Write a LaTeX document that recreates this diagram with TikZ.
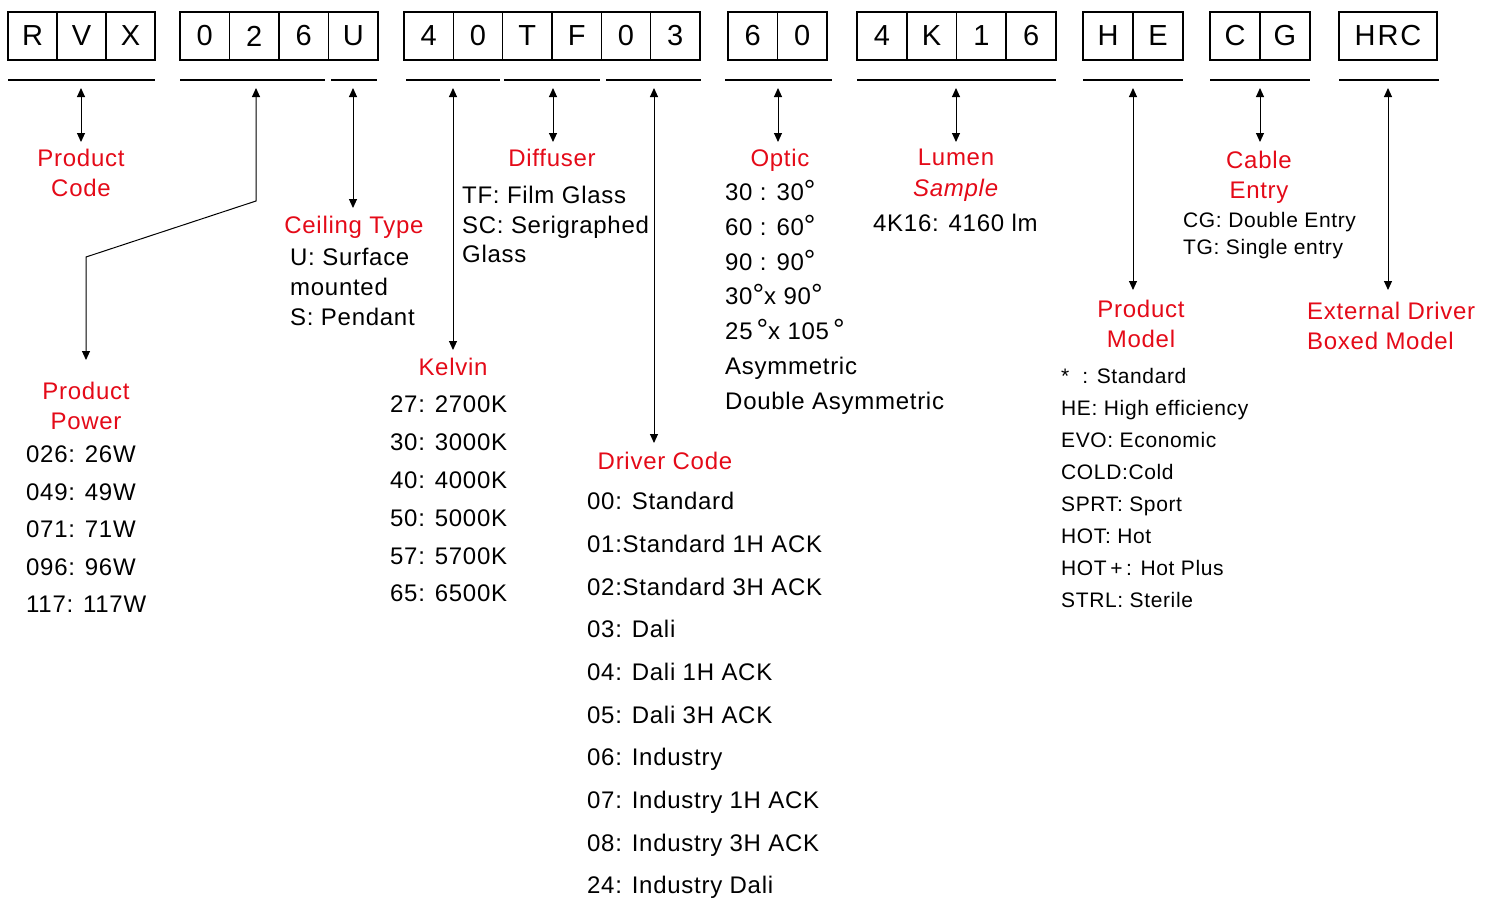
\documentclass[tikz,border=0pt]{standalone}
\usepackage{fontspec}
\setmainfont{Liberation Sans}[LetterSpace=3]
\usetikzlibrary{arrows.meta}
\definecolor{codered}{RGB}{228,10,24}
\newcommand\dg{{\fontsize{29}{29}\selectfont °}}

\begin{document}
\begin{tikzpicture}[x=1pt,y=-1pt,>={Triangle[length=9pt,width=8pt]},cell/.style={draw, line width=1.6pt, minimum height=48pt, inner sep=0pt, font=\fontsize{29}{34}\selectfont},uline/.style={line width=1.6pt},link/.style={<->, line width=1pt},title/.style={text=codered, align=center, anchor=north, inner sep=0pt, font=\fontsize{24}{30}\selectfont},list/.style={align=left, anchor=north west, inner sep=0pt, font=\fontsize{24}{30}\selectfont},small/.style={list, font=\fontsize{21}{27}\selectfont}]
\useasboundingbox (0,0) rectangle (1489,898);
% code boxes
\node[cell, minimum width=49pt] (c1a) at (32.5,36) {R}; \node[cell, minimum width=49pt] (c1b) at (81.5,36) {V}; \node[cell, minimum width=49pt] (c1c) at (130.5,36) {X};
\node[cell, minimum width=49.5pt] (c2a) at (204.75,36) {0}; \node[cell, minimum width=49.5pt] (c2b) at (254.25,36) {2}; \node[cell, minimum width=49.5pt] (c2c) at (303.75,36) {6}; \node[cell, minimum width=49.5pt] (c2d) at (353.25,36) {U};
\node[cell, minimum width=49.3pt] (c3a) at (428.7,36) {4}; \node[cell, minimum width=49.3pt] (c3b) at (478,36) {0}; \node[cell, minimum width=49.3pt] (c3c) at (527.3,36) {T};
\node[cell, minimum width=49.3pt] (c3d) at (576.7,36) {F}; \node[cell, minimum width=49.3pt] (c3e) at (626,36) {0}; \node[cell, minimum width=49.3pt] (c3f) at (675.3,36) {3};
\node[cell, minimum width=49.5pt] (c4a) at (752.75,36) {6}; \node[cell, minimum width=49.5pt] (c4b) at (802.25,36) {0};
\node[cell, minimum width=49.75pt] (c5a) at (881.9,36) {4}; \node[cell, minimum width=49.75pt] (c5b) at (931.6,36) {K}; \node[cell, minimum width=49.75pt] (c5c) at (981.4,36) {1}; \node[cell, minimum width=49.75pt] (c5d) at (1031.1,36) {6};
\node[cell, minimum width=50pt] (c6a) at (1108,36) {H}; \node[cell, minimum width=50pt] (c6b) at (1158,36) {E};
\node[cell, minimum width=50pt] (c7a) at (1235,36) {C}; \node[cell, minimum width=50pt] (c7b) at (1285,36) {G};
\node[cell, minimum width=98pt] (c8) at (1388,36) {H\kern2pt R\kern2pt C};
% underlines
\draw[uline] (8,80) -- (155,80); \draw[uline] (180,80) -- (325,80); \draw[uline] (331,80) -- (377,80);
\draw[uline] (406,80) -- (500,80); \draw[uline] (504,80) -- (600,80); \draw[uline] (606,80) -- (701,80);
\draw[uline] (725,80) -- (832,80); \draw[uline] (857,80) -- (1056,80); \draw[uline] (1083,80) -- (1183,80);
\draw[uline] (1210,80) -- (1310,80); \draw[uline] (1339,80) -- (1439,80);
% pointers
\coordinate (aCode) at (81,88); \coordinate (bCode) at (81,142);
\coordinate (aPower) at (256,88); \coordinate (kPower) at (256,201); \coordinate (jPower) at (86,257); \coordinate (bPower) at (86,360);
\coordinate (aCeiling) at (353,88); \coordinate (bCeiling) at (353,208);
\coordinate (aKelvin) at (453,88); \coordinate (bKelvin) at (453,350);
\coordinate (aDiffuser) at (553,88); \coordinate (bDiffuser) at (553,142);
\coordinate (aDriver) at (654,88); \coordinate (bDriver) at (654,443);
\coordinate (aOptic) at (778,88); \coordinate (bOptic) at (778,142);
\coordinate (aLumen) at (956,88); \coordinate (bLumen) at (956,142);
\coordinate (aModel) at (1133,88); \coordinate (bModel) at (1133,290);
\coordinate (aCable) at (1260,88); \coordinate (bCable) at (1260,142);
\coordinate (aExternal) at (1388,88); \coordinate (bExternal) at (1388,290);
\draw[link] (aCode) -- (bCode); \draw[link] (aPower) -- (kPower) -- (jPower) -- (bPower); \draw[link] (aCeiling) -- (bCeiling);
\draw[link] (aKelvin) -- (bKelvin); \draw[link] (aDiffuser) -- (bDiffuser); \draw[link] (aDriver) -- (bDriver);
\draw[link] (aOptic) -- (bOptic); \draw[link] (aLumen) -- (bLumen); \draw[link] (aModel) -- (bModel);
\draw[link] (aCable) -- (bCable); \draw[link] (aExternal) -- (bExternal);
% titles
\node[title] (tCode) at (81,149) {Product\\Code};
\node[title] (tPower) at (86,382) {Product\\Power};
\node[title] (tCeiling) at (354,216) {Ceiling Type};
\node[title] (tKelvin) at (453,358) {Kelvin};
\node[title] (tDiffuser) at (552,149) {Diffuser};
\node[title] (tDriver) at (665,452) {Driver Code};
\node[title] (tOptic) at (780,149) {Optic};
\node[title, font=\fontsize{24}{31}\selectfont] (tLumen) at (956,149) {Lumen\\\textit{Sample}};
\node[title] (tCable) at (1259,151) {Cable\\Entry};
\node[title] (tModel) at (1141,300) {Product\\Model};
\node[title, align=left, anchor=north west] (tExternal) at (1307,302) {External Driver\\Boxed Model};
% lists
\node[list, font=\fontsize{24}{37.5}\selectfont] (lPower) at (26,446) {026: 26W\\049: 49W\\071: 71W\\096: 96W\\117: 117W};
\node[list] (lCeiling) at (290,248) {U: Surface\\mounted\\S: Pendant};
\node[list, font=\fontsize{24}{29.5}\selectfont] (lDiffuser) at (462,186) {TF: Film Glass\\SC: Serigraphed\\Glass};
\node[list, font=\fontsize{24}{37.8}\selectfont] (lKelvin) at (390,396) {27: 2700K\\30: 3000K\\40: 4000K\\50: 5000K\\57: 5700K\\65: 6500K};
\node[list, font=\fontsize{24}{42.7}\selectfont] (lDriver) at (587,492) {00: Standard\\01:Standard 1H ACK\\02:Standard 3H ACK\\03: Dali\\04: Dali 1H ACK\\05: Dali 3H ACK\\06: Industry\\07: Industry 1H ACK\\08: Industry 3H ACK\\24: Industry Dali};
\node[list, font=\fontsize{24}{34.8}\selectfont] (lOptic) at (725,180) {30 : 30\dg\\60 : 60\dg\\90 : 90\dg\\30\dg x 90\dg\\25\,\dg x 105\,\dg\\Asymmetric\\Double Asymmetric};
\node[list] (lLumen) at (873,214) {4K16: 4160 lm};
\node[small] (lCable) at (1183,212) {CG: Double Entry\\TG: Single entry};
\node[small, font=\fontsize{21}{32}\selectfont] (lModel) at (1061,368) {*\ \ : Standard\\HE: High efficiency\\EVO: Economic\\COLD:Cold\\SPRT: Sport\\HOT: Hot\\HOT\,+\,: Hot Plus\\STRL: Sterile};
\end{tikzpicture}
\end{document}
